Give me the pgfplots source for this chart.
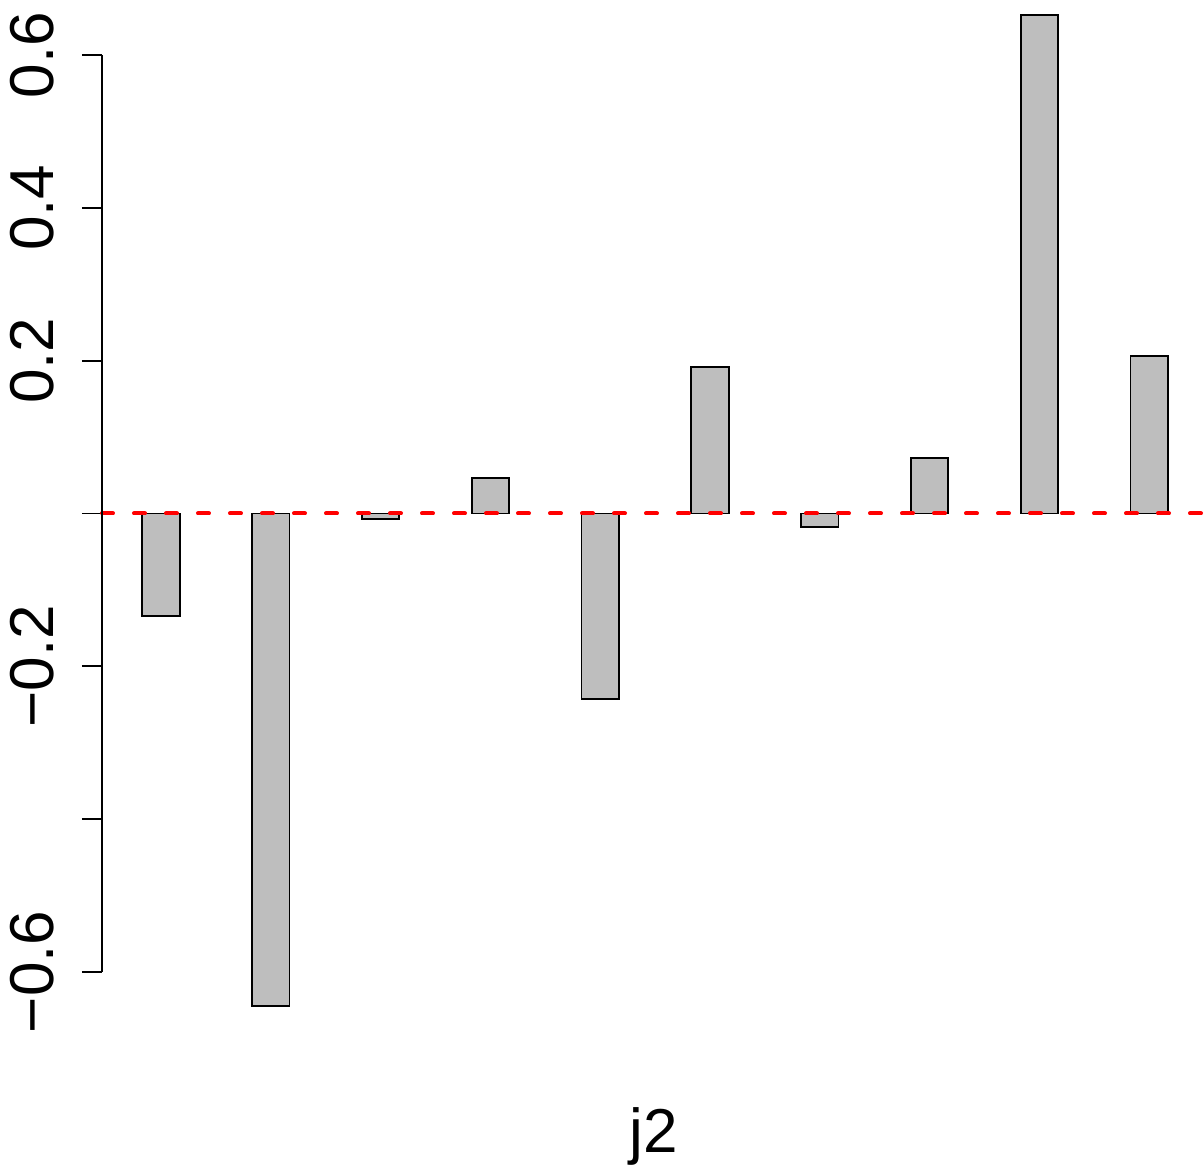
\documentclass[border=0pt]{standalone}
\usepackage{pgfplots}
\pgfplotsset{compat=1.18}
\usepackage{fontspec}
\setmainfont{Liberation Sans}
\definecolor{rgrey}{HTML}{BEBEBE}
\begin{document}
\begin{tikzpicture}
\path[use as bounding box] (-51pt,0) rectangle (551pt,583.5pt);
\begin{axis}[
  at={(0,0)}, anchor=south west,
  scale only axis,
  width=551pt, height=583.5pt,
  xmin=0.4627, xmax=10.499,
  ymin=-0.8554, ymax=0.6721,
  clip=false,
  axis x line=none,
  axis y line*=left,
  y axis line style={draw=none},
  ytick={-0.6,-0.4,-0.2,0,0.2,0.4,0.6},
  yticklabels={{−0.6},{},{−0.2},{},{0.2},{0.4},{0.6}},
  tick align=outside,
  major tick length=10pt,
  ytick style={black, line width=0.9pt},
  yticklabel style={xshift=-14pt, rotate=90, anchor=base, inner sep=0pt, font=\fontsize{31}{37}\selectfont},
]
\addplot[ybar, bar width=0.3415, bar shift=0pt, fill=rgrey, draw=black, line width=0.9pt] coordinates {
  (1,-0.1342) (2,-0.6446) (3,-0.0076) (4,0.0465) (5,-0.2428)
  (6,0.1918) (7,-0.0177) (8,0.0726) (9,0.6525) (10,0.2062)
};
\addplot[red, line width=2pt, line cap=round, dash pattern=on 5.5pt off 10.5pt] coordinates {(0.4627,0) (10.499,0)};
\draw[black, line width=0.9pt] (axis cs:0.4627,-0.6) -- (axis cs:0.4627,0.6);
\node[anchor=base, inner sep=0pt, font=\fontsize{31}{37}\selectfont] at (axis cs:5.49,-0.837) {j2};
\end{axis}
\end{tikzpicture}
\end{document}
